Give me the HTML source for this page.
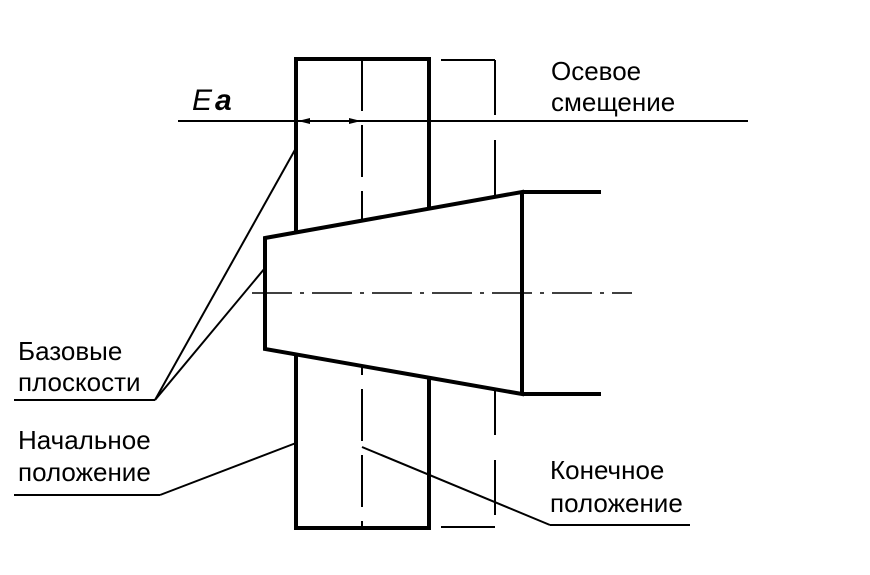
<!DOCTYPE html>
<html><head><meta charset="utf-8"><style>body{margin:0;background:#fff}svg{display:block}</style></head><body>
<svg width="870" height="575" viewBox="0 0 870 575" xmlns="http://www.w3.org/2000/svg" font-family="Liberation Sans, sans-serif" font-size="26" fill="#000">
<g stroke="#000" fill="none">
<rect x="296" y="59" width="133" height="469" stroke-width="4"/>
<line x1="178" y1="121" x2="748" y2="121" stroke-width="2"/>
<line x1="362" y1="59" x2="362" y2="528" stroke-width="2" stroke-dasharray="52,14"/>
<line x1="495" y1="60" x2="495" y2="527" stroke-width="2" stroke-dasharray="55,25"/>
<line x1="441" y1="60" x2="495" y2="60" stroke-width="2"/>
<line x1="441" y1="527" x2="495" y2="527" stroke-width="2"/>
<polygon points="265,238 522,192 522,394 265,349" fill="#fff" stroke-width="4"/>
<line x1="522" y1="192" x2="601" y2="192" stroke-width="4"/>
<line x1="522" y1="394" x2="601" y2="394" stroke-width="4"/>
<line x1="252" y1="293" x2="632" y2="293" stroke-width="1.5" stroke-dasharray="40,8,4,8"/>
<line x1="296" y1="148" x2="155" y2="400" stroke-width="2"/>
<line x1="265" y1="268" x2="155" y2="400" stroke-width="2"/>
<line x1="14" y1="400" x2="155" y2="400" stroke-width="2"/>
<line x1="296" y1="443" x2="160" y2="495" stroke-width="2"/>
<line x1="14" y1="495" x2="160" y2="495" stroke-width="2"/>
<line x1="362" y1="447" x2="550" y2="525" stroke-width="2"/>
<line x1="550" y1="525" x2="690" y2="525" stroke-width="2"/>
</g>
<polygon points="298,121 310,118 310,124"/>
<polygon points="361,121 349,118 349,124"/>
<text x="192" y="110" font-size="30" font-style="italic">E</text>
<text x="215" y="110" font-size="30" font-style="italic" font-weight="bold">a</text>
<text x="551" y="80">Осевое</text>
<text x="551" y="111">смещение</text>
<text x="18" y="360">Базовые</text>
<text x="18" y="391">плоскости</text>
<text x="18" y="449">Начальное</text>
<text x="18" y="481">положение</text>
<text x="550" y="479">Конечное</text>
<text x="550" y="512">положение</text>
</svg>
</body></html>
